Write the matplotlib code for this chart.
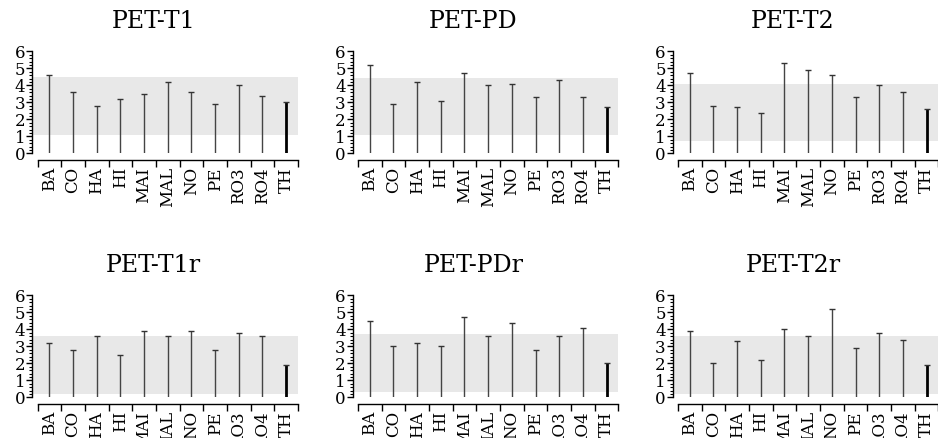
import numpy as np
import matplotlib
matplotlib.use("Agg")
import matplotlib.pyplot as plt
from matplotlib.ticker import MultipleLocator, FixedLocator

plt.rcParams['font.family'] = ['DejaVu Serif']

categories = ["BA", "CO", "HA", "HI", "MAI", "MAL", "NO", "PE", "RO3", "RO4", "TH"]

titles = ["PET-T1", "PET-PD", "PET-T2", "PET-T1r", "PET-PDr", "PET-T2r"]

pet_t1 = [4.6, 3.6, 2.8, 3.2, 3.5, 4.2, 3.6, 2.9, 4.0, 3.4, 3.0]
pet_pd = [5.2, 2.9, 4.2, 3.1, 4.7, 4.0, 4.1, 3.3, 4.3, 3.3, 2.7]
pet_t2 = [4.7, 2.8, 2.7, 2.4, 5.3, 4.9, 4.6, 3.3, 4.0, 3.6, 2.6]
pet_t1r = [3.2, 2.8, 3.6, 2.5, 3.9, 3.6, 3.9, 2.8, 3.8, 3.6, 1.9]
pet_pdr = [4.5, 3.0, 3.2, 3.0, 4.7, 3.6, 4.4, 2.8, 3.6, 4.1, 2.0]
pet_t2r = [3.9, 2.0, 3.3, 2.2, 4.0, 3.6, 5.2, 2.9, 3.8, 3.4, 1.9]

# shaded reference band (low, high) per panel
bands = [(1.1, 4.5), (1.05, 4.4), (0.75, 4.1), (0.2, 3.6), (0.3, 3.7), (0.2, 3.6)]

series = [pet_t1, pet_pd, pet_t2, pet_t1r, pet_pdr, pet_t2r]

fig = plt.figure(figsize=(9.38, 4.38), dpi=100)

lefts = [32.3, 352.7, 672.7]
bottoms = [153.3, 397.3]
title_x = [153.5, 473.5, 793]
title_y = [22, 265]
W, H = 938.0, 438.0
aw, ah = 265.7, 102.0

x = np.arange(len(categories))

for i, (name, vals, band) in enumerate(zip(titles, series, bands)):
    r, c = divmod(i, 3)
    ax = fig.add_axes([lefts[c] / W, 1 - bottoms[r] / H, aw / W, ah / H])
    ax.set_xlim(-0.72, 10.5)
    ax.set_ylim(0, 6)
    ax.axhspan(band[0], band[1], color="#e8e8e8", lw=0, zorder=0)

    cols = ["#444444"] * (len(vals) - 1) + ["#000000"]
    lws = [1.0] * (len(vals) - 1) + [2.0]
    ax.vlines(x, 0, vals, colors=cols, linewidths=lws, zorder=2)
    ax.plot(x, vals, ls="none", marker="_", ms=5, mew=1.0, color="#333333", zorder=3)

    for s in ["top", "right"]:
        ax.spines[s].set_visible(False)
    ax.spines["bottom"].set_position(("outward", 5))
    ax.spines["bottom"].set_bounds(-0.5, 10.5)
    ax.spines["left"].set_bounds(0, 6)
    ax.spines["left"].set_linewidth(1.0)
    ax.spines["bottom"].set_linewidth(1.0)

    ax.yaxis.set_major_locator(MultipleLocator(1))
    ax.yaxis.set_minor_locator(MultipleLocator(0.2))
    ax.tick_params(axis="y", which="major", length=4, width=1, pad=1, labelsize=12)
    ax.tick_params(axis="y", which="minor", length=2.5, width=0.8)

    ax.set_xticks(x)
    ax.set_xticklabels(categories, rotation=90)
    ax.xaxis.set_minor_locator(FixedLocator(np.arange(-0.5, 11, 1)))
    ax.tick_params(axis="x", which="major", length=0, pad=5, labelsize=12)
    ax.tick_params(axis="x", which="minor", length=5, width=1)

    fig.text(title_x[c] / W, 1 - title_y[r] / H, name, ha="center", va="center", fontsize=17)

fig.savefig("out.png", dpi=100)
